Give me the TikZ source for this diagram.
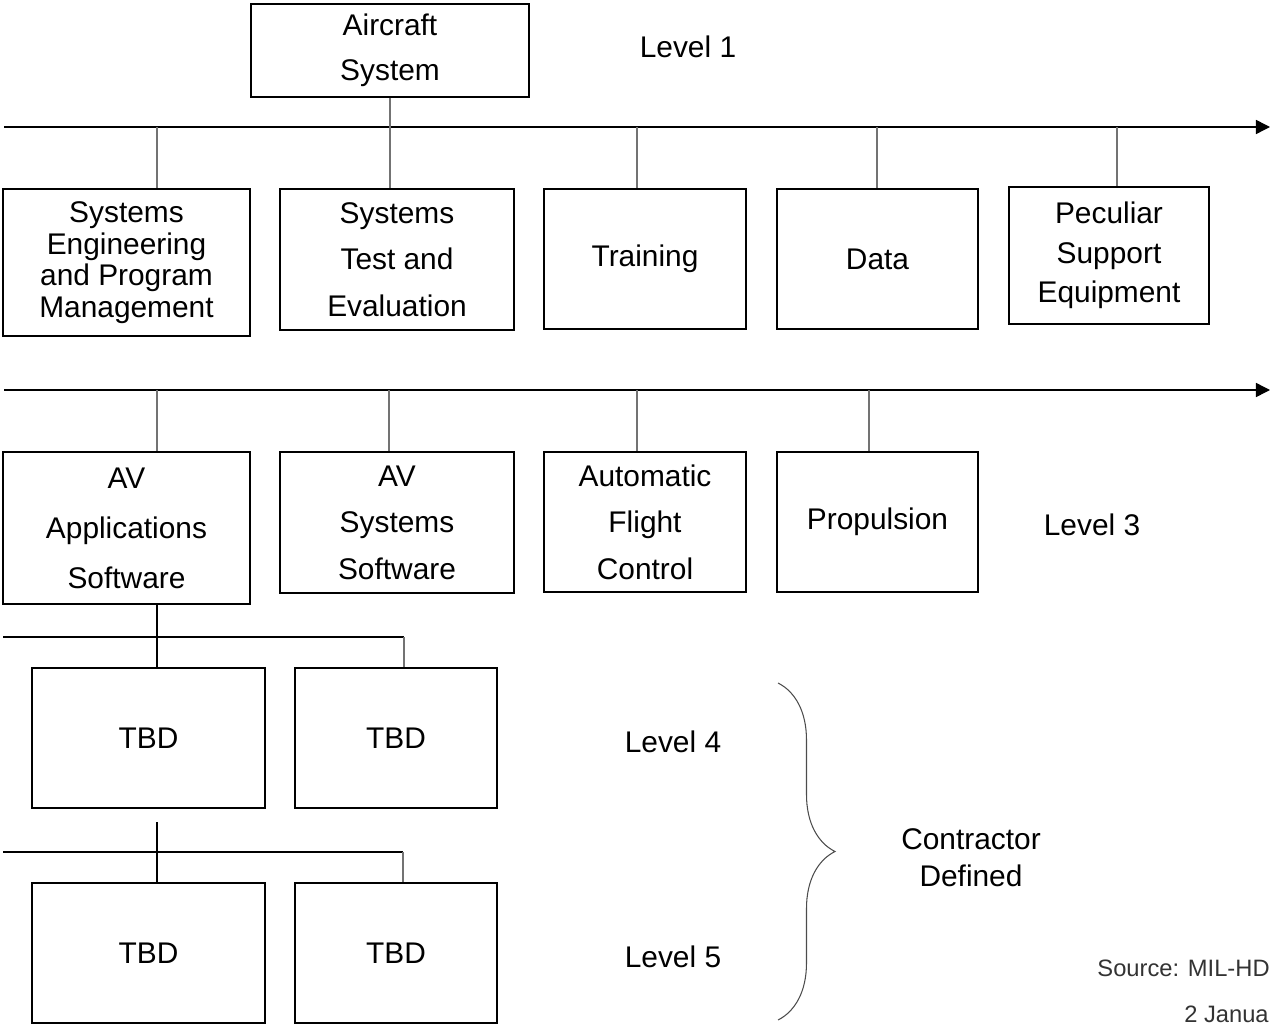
\documentclass[tikz,border=0pt]{standalone}
\usepackage{fontspec}
\setmainfont{Liberation Sans}
\usetikzlibrary{arrows.meta,decorations.pathreplacing}

\begin{document}
\begin{tikzpicture}[x=0.02cm,y=-0.02cm,
    box/.style={draw,line width=0.8pt,align=center,inner sep=0pt},
    bus/.style={line width=0.8pt,-{Triangle[length=8pt,width=8pt]}},
    link/.style={draw=black!55,line width=0.6pt},
    tie/.style={line width=0.7pt}]
         \fontsize{17}{26.5}\selectfont
         \useasboundingbox (0,0) rectangle (1271,1027);

         \node[box,minimum width=5.56cm,minimum height=1.86cm,font=\fontsize{17}{25.6}\selectfont] at (390,50.5) (air) {Aircraft\\System};
         \node at (688,47) (lv1) {Level 1};

         \node[box,minimum width=4.94cm,minimum height=2.94cm,font=\fontsize{17}{18}\selectfont] at (126.5,262.5) (sepm) {Systems\\Engineering\\and Program\\Management};
         \node[box,minimum width=4.68cm,minimum height=2.82cm] at (397,259.5) (ste) {Systems\\Test and\\Evaluation};
         \node[box,minimum width=4.04cm,minimum height=2.80cm] at (645,259) (trn) {Training};
         \node[box,minimum width=4.02cm,minimum height=2.80cm] at (877.5,259) (dat) {Data};
         \node[box,minimum width=4.00cm,minimum height=2.74cm,font=\fontsize{17}{22.5}\selectfont] at (1109,255.5) (pse) {Peculiar\\Support\\Equipment};

         \node[box,minimum width=4.94cm,minimum height=3.04cm,font=\fontsize{17}{28.5}\selectfont] at (126.5,528) (ava) {AV\\Applications\\Software};
         \node[box,minimum width=4.68cm,minimum height=2.82cm] at (397,522.5) (avs) {AV\\Systems\\Software};
         \node[box,minimum width=4.04cm,minimum height=2.80cm] at (645,522) (afc) {Automatic\\Flight\\Control};
         \node[box,minimum width=4.02cm,minimum height=2.80cm] at (877.5,522) (prp) {Propulsion};
         \node at (1092,525) (lv3) {Level 3};

         \node[box,minimum width=4.66cm,minimum height=2.80cm] at (148.5,738) (tbd4a) {TBD};
         \node[box,minimum width=4.04cm,minimum height=2.80cm] at (396,738) (tbd4b) {TBD};
         \node at (673,742) (lv4) {Level 4};

         \node[box,minimum width=4.66cm,minimum height=2.80cm] at (148.5,953) (tbd5a) {TBD};
         \node[box,minimum width=4.04cm,minimum height=2.80cm] at (396,953) (tbd5b) {TBD};
         \node at (673,957) (lv5) {Level 5};

         \node[align=center,font=\fontsize{17}{21}\selectfont] at (971,858) (cdef) {Contractor\\Defined};
         \node[anchor=east,inner sep=0pt,text=black!80,font=\fontsize{13.5}{16}\selectfont] at (1270,968) (src) {Source: MIL-HD};
         \node[anchor=east,inner sep=0pt,text=black!80,font=\fontsize{13.5}{16}\selectfont] at (1269,1014) (date) {2 Janua};

         \coordinate (b1w) at (4,127);
         \coordinate (b1e) at (1270,127);
         \coordinate (b2w) at (4,390);
         \coordinate (b2e) at (1270,390);
         \draw[bus] (b1w) -- (b1e);
         \draw[bus] (b2w) -- (b2e);

         \draw[link] (air.south) -- (air.south |- ste.north);
         \foreach \n/\x in {sepm/157,trn/637,dat/877,pse/1117}
            \draw[link] (\x,127) coordinate (t-\n) -- (t-\n |- \n.north);
         \foreach \n/\x in {ava/157,avs/389,afc/637,prp/869}
            \draw[link] (\x,390) coordinate (t-\n) -- (t-\n |- \n.north);

         \coordinate (j4) at (157,637);
         \coordinate (h4w) at (3,637);
         \coordinate (h4e) at (404,637);
         \draw[tie] (j4 |- ava.south) -- (j4 |- tbd4a.north);
         \draw[tie] (h4w) -- (h4e);
         \draw[link] (h4e) -- (h4e |- tbd4b.north);

         \coordinate (s5) at (157,822);
         \coordinate (h5w) at (3,852);
         \coordinate (h5e) at (403,852);
         \draw[tie] (s5) -- (s5 |- tbd5a.north);
         \draw[tie] (h5w) -- (h5e);
         \draw[link] (h5e) -- (h5e |- tbd5b.north);

         \coordinate (brt) at (778,683);
         \coordinate (brb) at (778,1020);
         \draw[decorate,decoration={brace,amplitude=1.14cm},draw=black!70,line width=0.6pt] (brt) -- (brb);
      \end{tikzpicture}
\end{document}
